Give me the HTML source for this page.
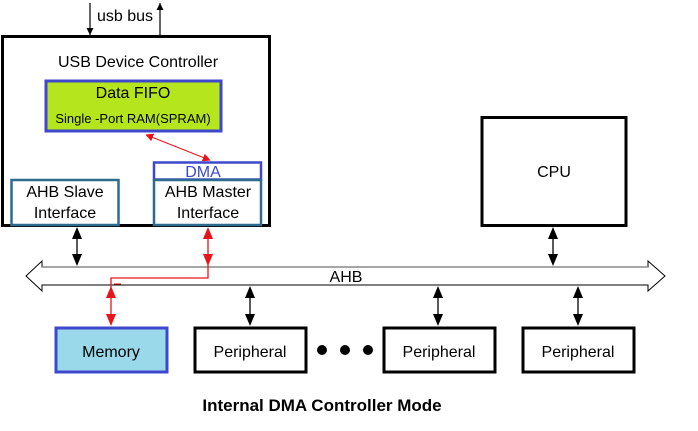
<!DOCTYPE html>
<html><head><meta charset="utf-8"><style>
body{margin:0;background:#fff;}
svg text{font-family:"Liberation Sans",sans-serif;}
</style></head><body>
<svg width="698" height="426" viewBox="0 0 698 426" xmlns="http://www.w3.org/2000/svg">
<defs>
<marker id="ab" markerWidth="12" markerHeight="12" refX="6" refY="6" orient="auto-start-reverse" markerUnits="userSpaceOnUse" viewBox="0 0 12 12"><path d="M0,1 L12,6 L0,11 z" fill="#000"/></marker>
<marker id="ar" markerWidth="12" markerHeight="12" refX="6" refY="6" orient="auto-start-reverse" markerUnits="userSpaceOnUse" viewBox="0 0 12 12"><path d="M0,1 L12,6 L0,11 z" fill="#e8141c"/></marker>
<marker id="ar2" markerWidth="8" markerHeight="8" refX="4" refY="4" orient="auto-start-reverse" markerUnits="userSpaceOnUse" viewBox="0 0 8 8"><path d="M0,0 L8,4 L0,8 z" fill="#e8141c"/></marker>
<marker id="sb" markerWidth="7" markerHeight="7" refX="7" refY="3.5" orient="auto" markerUnits="userSpaceOnUse" viewBox="0 0 7 7"><path d="M0,0 L7,3.5 L0,7 z" fill="#000"/></marker>
</defs>
<line x1="90" y1="3" x2="90" y2="35" stroke="#000" stroke-width="1.2" marker-end="url(#sb)"/>
<line x1="160" y1="35" x2="160" y2="3" stroke="#000" stroke-width="1.2" marker-end="url(#sb)"/>
<text x="97" y="21" font-size="16">usb bus</text>
<rect x="2.5" y="36.5" width="267" height="189" fill="#fff" stroke="#000" stroke-width="3"/>
<text x="138" y="67" font-size="16" text-anchor="middle">USB Device Controller</text>
<rect x="46" y="81" width="175" height="50" fill="#b5e61d" stroke="#3f48cc" stroke-width="3"/>
<text x="133" y="98" font-size="16" text-anchor="middle">Data FIFO</text>
<text x="133" y="123" font-size="13" text-anchor="middle">Single -Port RAM(SPRAM)</text>
<rect x="154" y="162.5" width="107" height="17" fill="#fff" stroke="#3f48cc" stroke-width="2.5"/>
<text x="203" y="177" font-size="16" fill="#3f48cc" text-anchor="middle">DMA</text>
<rect x="11.5" y="180" width="107" height="45" fill="#fff" stroke="#2f6b8e" stroke-width="2.5"/>
<text x="65" y="197" font-size="16" text-anchor="middle">AHB Slave</text>
<text x="65" y="218" font-size="16" text-anchor="middle">Interface</text>
<rect x="154" y="180" width="107" height="45" fill="#fff" stroke="#2f6b8e" stroke-width="2.5"/>
<text x="208" y="197" font-size="16" text-anchor="middle">AHB Master</text>
<text x="208" y="218" font-size="16" text-anchor="middle">Interface</text>
<line x1="149" y1="136" x2="207" y2="159" stroke="#e8141c" stroke-width="1" marker-start="url(#ar2)" marker-end="url(#ar2)"/>
<rect x="482" y="117.5" width="144" height="108" fill="#fff" stroke="#000" stroke-width="3"/>
<text x="554" y="177" font-size="16" text-anchor="middle">CPU</text>
<path d="M42,267 L648,267 L648,261 L665,276 L648,291 L648,285 L42,285 L42,291 L26,276 L42,261 Z" fill="#fff" stroke="#000" stroke-width="1"/>
<line x1="42" y1="267" x2="648" y2="267" stroke="#888" stroke-width="1.5"/>
<text x="346" y="282" font-size="16" text-anchor="middle">AHB</text>
<line x1="77" y1="233" x2="77" y2="260" stroke="#000" stroke-width="1.3" marker-start="url(#ab)" marker-end="url(#ab)"/>
<line x1="553" y1="233" x2="553" y2="260" stroke="#000" stroke-width="1.3" marker-start="url(#ab)" marker-end="url(#ab)"/>
<line x1="250" y1="292" x2="250" y2="320" stroke="#000" stroke-width="1.3" marker-start="url(#ab)" marker-end="url(#ab)"/>
<line x1="438" y1="292" x2="438" y2="320" stroke="#000" stroke-width="1.3" marker-start="url(#ab)" marker-end="url(#ab)"/>
<line x1="578" y1="292" x2="578" y2="320" stroke="#000" stroke-width="1.3" marker-start="url(#ab)" marker-end="url(#ab)"/>
<line x1="208" y1="233" x2="208" y2="260" stroke="#e8141c" stroke-width="1.3" marker-start="url(#ar)" marker-end="url(#ar)"/>
<polyline points="208,262 208,278 111,278 111,292" fill="none" stroke="#e8141c" stroke-width="1.3"/>
<line x1="111" y1="292" x2="111" y2="320" stroke="#e8141c" stroke-width="1.3" marker-start="url(#ar)" marker-end="url(#ar)"/>
<line x1="114" y1="284" x2="121" y2="284" stroke="#e8141c" stroke-width="1"/>
<rect x="56" y="328" width="111" height="44" fill="#99d9ea" stroke="#3f48cc" stroke-width="3"/>
<text x="111" y="357" font-size="16" text-anchor="middle">Memory</text>
<rect x="195" y="328" width="111" height="44" fill="#fff" stroke="#000" stroke-width="3"/>
<text x="250" y="357" font-size="16" text-anchor="middle">Peripheral</text>
<circle cx="322" cy="350" r="5"/><circle cx="345" cy="350" r="5"/><circle cx="368" cy="350" r="5"/>
<rect x="384" y="328" width="111" height="44" fill="#fff" stroke="#000" stroke-width="3"/>
<text x="439" y="357" font-size="16" text-anchor="middle">Peripheral</text>
<rect x="523" y="328" width="111" height="44" fill="#fff" stroke="#000" stroke-width="3"/>
<text x="578" y="357" font-size="16" text-anchor="middle">Peripheral</text>
<text x="322" y="411" font-size="17" font-weight="bold" text-anchor="middle">Internal DMA Controller Mode</text>
</svg>
</body></html>
